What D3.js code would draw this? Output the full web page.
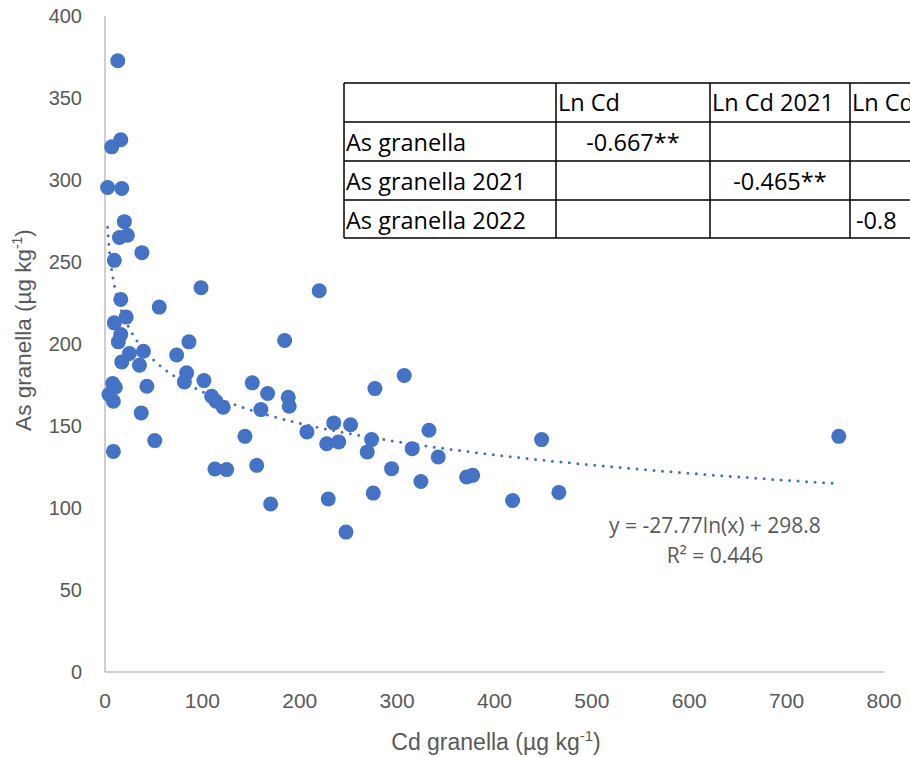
<!DOCTYPE html>
<html><head><meta charset="utf-8">
<script src="https://cdn.jsdelivr.net/npm/d3@7"></script>
<style>body{margin:0;background:#fff;} svg{display:block;}</style>
</head><body>
<svg id="chart" width="910" height="757"></svg>
<script>
// Data: Cd granella (x) vs As granella (y)
const cdValues = [13.1,6.9,16.2,2.7,17.2,19.9,14.8,23.0,9.6,37.9,16.2,55.7,98.6,9.6,21.7,16.2,13.7,17.2,25.1,39.5,35.4,73.6,86.2,83.8,81.5,101.6,43.0,7.9,10.6,4.1,8.6,37.2,8.6,51.1,109.5,114.0,121.4,112.9,124.9,143.7,151.3,160.1,155.8,167.0,170.1,184.5,188.2,189.2,207.4,220.0,227.7,229.3,234.9,240.0,247.5,252.2,269.3,273.8,275.5,277.2,294.3,307.3,315.5,324.4,332.7,342.2,371.4,377.6,418.6,448.4,466.1,753.6];
const asValues = [372.7,320.2,324.5,295.4,294.8,274.6,264.9,266.3,251.0,255.7,227.2,222.5,234.3,212.9,216.4,205.8,201.3,189.1,194.2,195.6,187.1,193.3,201.3,182.4,176.9,177.7,174.2,175.9,173.6,169.2,165.1,158.0,134.5,141.1,168.1,165.1,161.4,123.8,123.4,143.7,176.3,160.0,126.0,169.8,102.4,202.1,167.5,162.0,146.4,232.5,139.2,105.5,151.9,140.3,85.3,150.8,134.2,141.7,109.1,172.8,124.0,180.8,136.2,116.2,147.4,131.1,118.9,119.9,104.6,141.7,109.5,143.7];
const xTicks = [0,100,200,300,400,500,600,700,800];
const yTicks = [0,50,100,150,200,250,300,350,400];
const trendA = -27.77, trendB = 298.8;
const equationLines = ["y = -27.77ln(x) + 298.8", "R² = 0.446"];
const tableHeader = ["", "Ln Cd", "Ln Cd 2021", "Ln Cd 2022"];
const tableRows = ["As granella", "As granella 2021", "As granella 2022"];
const tableValues = [["-0.667**","",""],["","-0.465**",""],["","","-0.8"]];

const svg = d3.select("#chart");
const blue = "#4472C4", grey = "#595959", axisCol = "#BFBFBF";
const x = d3.scaleLinear().domain([0,800]).range([105,884]);
const y = d3.scaleLinear().domain([0,400]).range([672,16]);

// axes lines
svg.append("line").attr("x1",x(0)).attr("x2",x(800)).attr("y1",y(0)).attr("y2",y(0))
  .attr("stroke",axisCol).attr("stroke-width",1.5);
svg.append("line").attr("x1",x(0)).attr("x2",x(0)).attr("y1",y(0)).attr("y2",y(400))
  .attr("stroke",axisCol).attr("stroke-width",1.5);

// tick labels
svg.append("g").selectAll("text").data(yTicks).join("text")
  .attr("x",82).attr("y",d=>y(d)+7).attr("text-anchor","end")
  .attr("font-family","Liberation Sans, Arial, sans-serif").attr("font-size",20)
  .attr("fill",grey).text(d=>d);
svg.append("g").selectAll("text").data(xTicks).join("text")
  .attr("x",d=>x(d)).attr("y",708).attr("text-anchor","middle")
  .attr("font-family","Liberation Sans Narrow, Arial Narrow, sans-serif").attr("font-size",21)
  .attr("fill",grey).text(d=>d);

// axis titles
const xt = svg.append("text").attr("x",496).attr("y",750).attr("text-anchor","middle")
  .attr("font-family","Liberation Sans Narrow, Arial Narrow, sans-serif").attr("font-size",23).attr("fill",grey);
xt.append("tspan").text("Cd granella (µg kg");
xt.append("tspan").attr("font-size",15).attr("dy",-9).text("-1");
xt.append("tspan").attr("dy",9).text(")");
const yt = svg.append("text").attr("transform","translate(31,330) rotate(-90)").attr("text-anchor","middle")
  .attr("font-family","Liberation Sans, Arial, sans-serif").attr("font-size",22.5).attr("fill",grey);
yt.append("tspan").text("As granella (µg kg");
yt.append("tspan").attr("font-size",14).attr("dy",-9).text("-1");
yt.append("tspan").attr("dy",9).text(")");

// trendline
const xmin = d3.min(cdValues), xmax = d3.max(cdValues);
const tpts = d3.range(0,201).map(i => {
  const v = Math.exp(Math.log(xmin) + (Math.log(xmax)-Math.log(xmin))*i/200);
  return [v, trendA*Math.log(v)+trendB];
});
svg.append("path").datum(tpts)
  .attr("d", d3.line().x(d=>x(d[0])).y(d=>y(d[1])).curve(d3.curveLinear))
  .attr("fill","none").attr("stroke",blue).attr("stroke-width",3)
  .attr("stroke-linecap","round").attr("stroke-dasharray","0 8.5");

// points
svg.append("g").selectAll("circle").data(cdValues.map((c,i)=>[c,asValues[i]])).join("circle")
  .attr("cx",d=>x(d[0])).attr("cy",d=>y(d[1])).attr("r",7.5).attr("fill",blue);

// equation
svg.append("g").selectAll("text").data(equationLines).join("text")
  .attr("x",715).attr("y",(d,i)=>533+i*30).attr("text-anchor","middle")
  .attr("font-family","Open Sans, Liberation Sans, sans-serif").attr("font-size",21)
  .attr("fill",grey).text(d=>d);

// table
const colX = [344,556,710,850,1010];
const rowY = [83,122,161,200,238];
const tg = svg.append("g");
tg.append("rect").attr("x",colX[0]).attr("y",rowY[0]).attr("width",colX[4]-colX[0]).attr("height",rowY[4]-rowY[0])
  .attr("fill","#fff");
rowY.forEach(ry => tg.append("line").attr("x1",colX[0]).attr("x2",colX[4]).attr("y1",ry).attr("y2",ry).attr("stroke","#000").attr("stroke-width",1.5));
colX.forEach(cx => tg.append("line").attr("x1",cx).attr("x2",cx).attr("y1",rowY[0]).attr("y2",rowY[4]).attr("stroke","#000").attr("stroke-width",1.5));
const tf = "Open Sans, Liberation Sans, sans-serif", tfs = 23.5;
tableHeader.forEach((h,i)=>{ if(!h) return;
  tg.append("text").attr("x",colX[i]+2).attr("y",rowY[0]+28).attr("font-family",tf).attr("font-size",tfs).attr("fill","#000").text(h);
});
tableRows.forEach((r,j)=>{
  tg.append("text").attr("x",colX[0]+2).attr("y",rowY[j+1]+29).attr("font-family",tf).attr("font-size",tfs).attr("fill","#000").text(r);
  tableValues[j].forEach((v,i)=>{ if(!v) return;
    const last = (i === 2);
    tg.append("text").attr("x", last ? colX[3]+6 : (colX[i+1]+colX[i+2])/2).attr("y",rowY[j+1]+29)
      .attr("text-anchor", last ? "start" : "middle")
      .attr("font-family",tf).attr("font-size",tfs).attr("fill","#000").text(v);
  });
});
</script>
</body></html>
